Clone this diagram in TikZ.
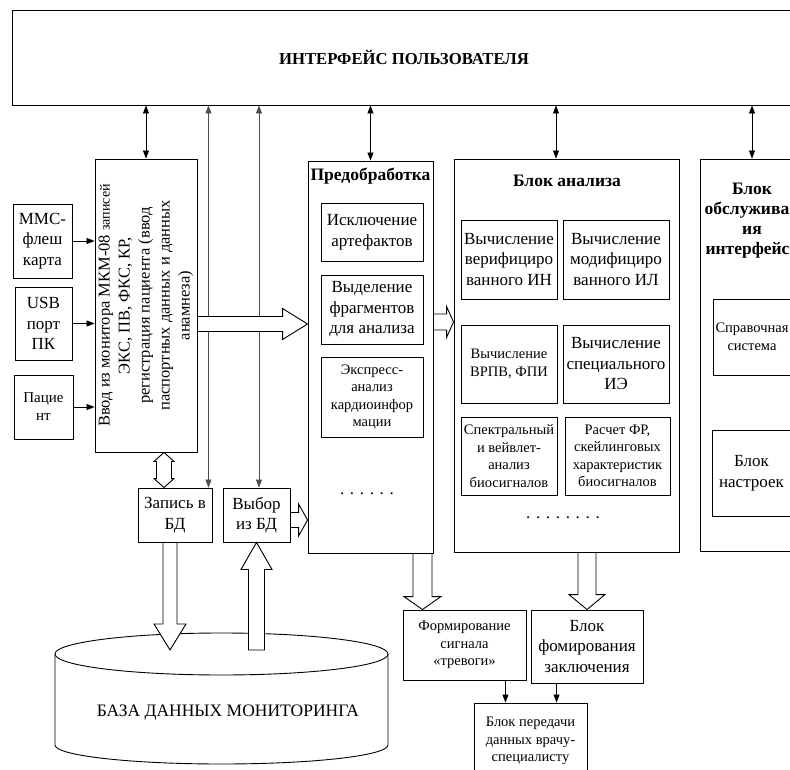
\documentclass[tikz,border=0pt]{standalone}
\usepackage{fontspec}
\setmainfont{Liberation Serif}
\usetikzlibrary{arrows.meta,calc}
\newcommand{\bigf}{\fontsize{17}{20.5}\selectfont}
\newcommand{\smallf}{\fontsize{14.5}{17.5}\selectfont}
\newcommand{\headf}{\bfseries\fontsize{17.5}{20}\selectfont}
\begin{document}
\begin{tikzpicture}[x=1pt,y=-1pt,
  box/.style={draw,line width=0.9pt,align=center,inner sep=1pt,font=\bigf},
  sbox/.style={box,font=\smallf},
  head/.style={font=\headf,align=center},
  link/.style={line width=0.7pt,-{Triangle[length=8pt,width=6pt]}},
  dlink/.style={line width=0.7pt,{Triangle[length=8pt,width=6pt]}-{Triangle[length=8pt,width=6pt]}},
  fat/.style args={#1/#2/#3}{draw,fill=white,line width=0.9pt,to path={
    let \p1=($(\tikztotarget)!#3!(\tikztostart)$) in
    ($(\tikztostart)!#1!90:(\tikztotarget)$) -- ($(\p1)!#1!90:(\tikztotarget)$)
    -- ($(\p1)!#2!90:(\tikztotarget)$) -- (\tikztotarget)
    -- ($(\p1)!#2!-90:(\tikztotarget)$) -- ($(\p1)!#1!-90:(\tikztotarget)$)
    -- ($(\tikztostart)!#1!-90:(\tikztotarget)$) -- cycle}},
  fatboth/.style args={#1/#2/#3}{draw,fill=white,line width=0.9pt,to path={
    let \p1=($(\tikztostart)!#3!(\tikztotarget)$),
        \p2=($(\tikztotarget)!#3!(\tikztostart)$) in
    (\tikztostart) -- ($(\p1)!#2!90:(\tikztotarget)$) -- ($(\p1)!#1!90:(\tikztotarget)$)
    -- ($(\p2)!#1!90:(\tikztotarget)$) -- ($(\p2)!#2!90:(\tikztotarget)$)
    -- (\tikztotarget) -- ($(\p2)!#2!-90:(\tikztotarget)$)
    -- ($(\p2)!#1!-90:(\tikztotarget)$) -- ($(\p1)!#1!-90:(\tikztotarget)$)
    -- ($(\p1)!#2!-90:(\tikztotarget)$) -- cycle}}]
  \useasboundingbox (0,0) rectangle (790,770);
  \clip (0,0) rectangle (790,770);
  % interface
  \node[box,minimum width=784,minimum height=95,font=\bfseries\fontsize{16.7}{20}\selectfont] (ui) at (404,57.5) {ИНТЕРФЕЙС ПОЛЬЗОВАТЕЛЯ};
  % input side
  \node[box,minimum width=102,minimum height=293] (inp) at (146,305.5) {};
  \node[rotate=90,align=center,font=\fontsize{16.5}{20}\selectfont] (inptxt) at (inp.center)
    {Ввод из монитора МКМ-08 {\fontsize{14}{20}\selectfont записей}\\ЭКС, ПВ, ФКС, КР,\\регистрация пациента (ввод\\паспортных данных и данных\\анамнеза)};
  \node[box,minimum width=59,minimum height=74] (mmc) at (42.5,241) {MMC-\\флеш\\карта};
  \node[box,minimum width=57,minimum height=73] (usb) at (43.5,323.5) {USB\\порт\\ПК};
  \node[box,minimum width=59,minimum height=64,font=\fontsize{15}{18}\selectfont] (pac) at (43.5,407) {Пацие\\нт};
  \node[box,minimum width=74,minimum height=54] (zap) at (175,515) {Запись в\\БД};
  \node[box,minimum width=67,minimum height=54] (vyb) at (256.5,515) {Выбор\\из БД};
  % preprocessing
  \node[box,minimum width=125,minimum height=392] (pre) at (370.5,357) {};
  \node[head] (pret) at (370.5,176) {Предобработка};
  \node[box,minimum width=102,minimum height=58] (pre1) at (372,232) {Исключение\\артефактов};
  \node[box,minimum width=102,minimum height=69] (pre2) at (372,309.5) {Выделение\\фрагментов\\для анализа};
  \node[sbox,minimum width=102,minimum height=80] (pre3) at (372,397) {Экспресс-\\анализ\\кардиоинфор\\мации};
  \node[font=\bigf] (predots) at (367,494) {. . . . . .};
  % analysis
  \node[box,minimum width=225,minimum height=393] (ana) at (566.5,355.5) {};
  \node[head] (anat) at (567,181) {Блок анализа};
  \node[box,minimum width=96,minimum height=79] (a1) at (509,259.5) {Вычисление\\верифициро\\ванного ИН};
  \node[box,minimum width=106,minimum height=79] (a2) at (616,259.5) {Вычисление\\модифициро\\ванного ИЛ};
  \node[sbox,minimum width=96,minimum height=78] (a3) at (509,364) {Вычисление\\ВРПВ, ФПИ};
  \node[box,minimum width=106,minimum height=78] (a4) at (616,364) {Вычисление\\специального\\ИЭ};
  \node[sbox,minimum width=96,minimum height=78] (a5) at (509,456) {Спектральный\\и вейвлет-\\анализ\\биосигналов};
  \node[sbox,minimum width=105,minimum height=78] (a6) at (617.5,456) {Расчет ФР,\\скейлинговых\\характеристик\\биосигналов};
  \node[font=\bigf] (anadots) at (563,518) {. . . . . . . .};
  % service
  \node[box,minimum width=104,minimum height=392] (srv) at (752,355) {};
  \node[head] (srvt) at (752,221) {Блок\\обслуживан\\ия\\интерфейса};
  \node[sbox,minimum width=78,minimum height=76] (s1) at (752,337) {Справочная\\система};
  \node[box,minimum width=79,minimum height=86] (s2) at (751.5,473) {Блок\\настроек};
  % outputs
  \node[sbox,minimum width=123,minimum height=70] (alarm) at (464.5,645) {Формирование\\сигнала\\«тревоги»};
  \node[box,minimum width=112,minimum height=73] (concl) at (587,646.5) {Блок\\фомирования\\заключения};
  \node[sbox,minimum width=113,minimum height=76] (send) at (530.5,741) {Блок передачи\\данных врачу-\\специалисту};
  % database
  \draw[line width=0.9pt] (55,654) -- (55,745) arc[start angle=180,end angle=0,x radius=166.5,y radius=19] -- (388,654);
  \draw[line width=0.9pt,fill=white] (221.5,654) ellipse[x radius=166.5,y radius=21];
  \node[font=\fontsize{17.5}{20}\selectfont] (db) at (228,713) {БАЗА ДАННЫХ МОНИТОРИНГА};
  \coordinate (dbtop) at (221.5,650);
  % thin connectors
  \foreach \t in {inp.north,pre.north,srv.north}
    \draw[dlink] (ui.south -| \t) -- (\t);
  \coordinate (anain) at ($(ana.north)+(-10.5,0)$);
  \draw[dlink] (ui.south -| anain) -- (anain);
  \coordinate (zapin) at ($(zap.north east)+(-4,0)$);
  \coordinate (vybin) at ($(vyb.north)+(2.5,0)$);
  \draw[dlink,black!70] (ui.south -| zapin) -- (zapin);
  \draw[dlink,black!70] (ui.south -| vybin) -- (vybin);
  \foreach \s in {mmc,usb,pac}
    \draw[link] (\s.east) -- (\s.east -| inp.west);
  \coordinate (t1) at ($(alarm.south east)+(-21,0)$);
  \coordinate (t2) at ($(concl.south west)+(26,0)$);
  \draw[link] (t1) -- (t1 |- send.north);
  \draw[link] (t2) -- (t2 |- send.north);
  % hollow arrows
  \coordinate (f1s) at ($(inp.east)+(0,18.5)$);
  \coordinate (f1e) at (f1s -| pre.west);
  \draw[fat=7.5pt/15.5pt/25pt] (f1s) to (f1e);
  \coordinate (f2s) at ($(vyb.east)+(0,5)$);
  \coordinate (f2e) at (f2s -| pre.west);
  \draw[fat=7.5pt/16pt/9pt] (f2s) to (f2e);
  \coordinate (f3s) at ($(pre.east)+(0,-35)$);
  \coordinate (f3e) at (f3s -| ana.west);
  \draw[fat=8pt/15.5pt/7pt] (f3s) to (f3e);
  \coordinate (f4s) at ($(zap.north)+(-11,0)$);
  \coordinate (f4t) at (f4s |- inp.south);
  \draw[fatboth=7.5pt/10pt/9pt] (f4t) to (f4s);
  \coordinate (f5s) at ($(zap.south)+(-5,0)$);
  \coordinate (dbin) at (f5s |- dbtop);
  \draw[fat=7pt/16pt/26pt] (f5s) to (dbin);
  \coordinate (dbout) at (vyb.south |- dbtop);
  \draw[fat=8pt/15.5pt/27pt] (dbout) to (vyb.south);
  \coordinate (f6s) at ($(pre.south east)+(-11,0)$);
  \coordinate (f6e) at (f6s |- alarm.north);
  \draw[fat=9.5pt/18.5pt/13pt] (f6s) to (f6e);
  \coordinate (f7s) at (ana.south -| concl.north);
  \draw[fat=9pt/18pt/15pt] (f7s) to (concl.north);
\end{tikzpicture}
\end{document}
